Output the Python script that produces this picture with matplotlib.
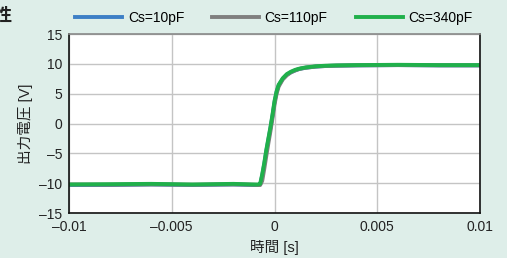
import matplotlib
matplotlib.use("Agg")
import matplotlib.pyplot as plt

plt.rcParams['font.family'] = ['Liberation Sans', 'Noto Sans CJK JP']

# time [s]
t = [-0.01, -0.008, -0.006, -0.004, -0.002, -0.001, -0.0008, -0.0007,
     -0.0006, -0.0005, -0.0004, -0.0003, -0.0002, -0.0001, 0.0, 0.0001,
     0.0002, 0.0004, 0.0006, 0.0008, 0.001, 0.0012, 0.0015, 0.002,
     0.0025, 0.003, 0.004, 0.006, 0.008, 0.01]

v_10pF = [-10.3, -10.3, -10.2, -10.3, -10.2, -10.3, -10.3, -10.2,
          -8.7, -6.8, -4.6, -2.7, -0.8, 1.3, 3.6, 5.3,
          6.4, 7.5, 8.2, 8.6, 8.9, 9.15, 9.35, 9.55,
          9.65, 9.7, 9.75, 9.8, 9.75, 9.75]
v_110pF = [-10.2, -10.25, -10.2, -10.25, -10.2, -10.25, -10.3, -10.3,
           -9.6, -7.6, -5.4, -3.3, -1.3, 0.9, 3.2, 5.0,
           6.2, 7.4, 8.1, 8.6, 8.9, 9.15, 9.35, 9.55,
           9.65, 9.7, 9.75, 9.8, 9.75, 9.75]
v_340pF = [-10.2, -10.15, -10.1, -10.2, -10.1, -10.2, -10.2, -10.1,
           -8.5, -6.6, -4.4, -2.5, -0.6, 1.5, 3.8, 5.4,
           6.5, 7.6, 8.3, 8.7, 9.0, 9.2, 9.4, 9.6,
           9.7, 9.75, 9.8, 9.85, 9.8, 9.8]

labels = ["Cs=10pF", "Cs=110pF", "Cs=340pF"]
xticks = [-0.01, -0.005, 0, 0.005, 0.01]
xticklabels = ["\u20130.01", "\u20130.005", "0", "0.005", "0.01"]
yticks = [-15, -10, -5, 0, 5, 10, 15]
yticklabels = ["\u201315", "\u201310", "\u20135", "0", "5", "10", "15"]

bg = "#deeee9"
fig = plt.figure(figsize=(5.07, 2.58), dpi=100, facecolor=bg)
ax = fig.add_axes([0.136, 0.174, 0.811, 0.694])
ax.set_facecolor("white")

ax.plot(t, v_10pF, color="#3d7fc6", lw=2.8, label=labels[0])
ax.plot(t, v_110pF, color="#7f7f7f", lw=2.8, label=labels[1])
ax.plot(t, v_340pF, color="#20b04b", lw=2.8, label=labels[2])

ax.set_xlim(-0.01, 0.01)
ax.set_ylim(-15, 15)
ax.set_xticks(xticks)
ax.set_xticklabels(xticklabels)
ax.set_yticks(yticks)
ax.set_yticklabels(yticklabels)
ax.tick_params(length=0, labelsize=10, pad=5, colors="#222222")
ax.grid(True, color="#c4c4c4", lw=1)
ax.set_axisbelow(True)
for s in ["left", "bottom", "right"]:
    ax.spines[s].set_color("#111111")
    ax.spines[s].set_linewidth(1.2)
ax.spines["top"].set_color("#888888")
ax.spines["top"].set_linewidth(1.2)

ax.set_xlabel("時間 [s]", fontsize=10.5, color="#222222", labelpad=4)
ax.set_ylabel("出力電圧 [V]", fontsize=10.5, color="#222222", labelpad=4)

fig.legend(loc="upper center", bbox_to_anchor=(0.54, 1.005), ncol=3,
           frameon=False, fontsize=10, handlelength=3.4, columnspacing=2.0,
           handletextpad=0.4)

fig.text(-0.012, 0.935, "性", fontsize=13, fontweight="bold", color="#222222",
         va="center")

fig.savefig("out.png", dpi=100, facecolor=bg)
